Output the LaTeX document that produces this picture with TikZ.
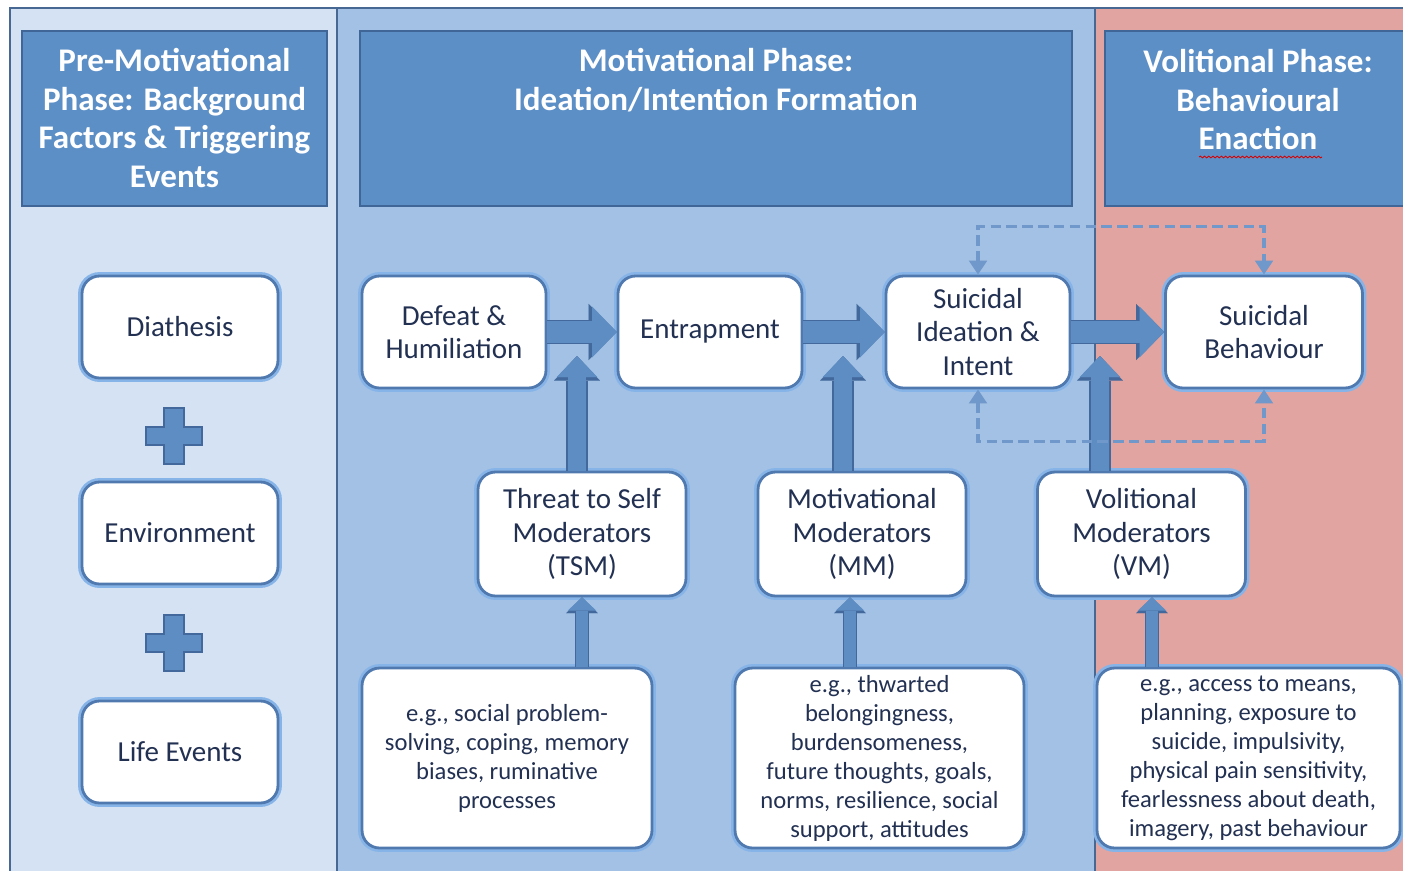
\documentclass[tikz,border=0pt]{standalone}
\usepackage{fontspec}
\setmainfont{Carlito}
\usetikzlibrary{arrows.meta,positioning,decorations.pathmorphing}

\definecolor{prepanel}{RGB}{212,226,243}
\definecolor{motpanel}{RGB}{162,193,228}
\definecolor{volpanel}{RGB}{226,164,160}
\definecolor{panelline}{RGB}{72,104,148}
\definecolor{headfill}{RGB}{93,143,199}
\definecolor{headline}{RGB}{64,102,152}
\definecolor{boxline}{RGB}{80,122,175}
\definecolor{boxglow}{RGB}{135,180,232}
\definecolor{inktext}{RGB}{34,48,82}
\definecolor{arrfill}{RGB}{94,141,196}
\definecolor{arrline}{RGB}{66,104,156}
\definecolor{loopline}{RGB}{112,152,202}

\tikzset{
  panel/.style={draw=panelline, line width=1.2pt},
  header/.style={draw=headline, fill=headfill, line width=1.4pt, inner sep=0pt},
  headtext/.style={text=white, inner sep=0pt, align=center,
    font=\fontsize{18.8}{22}\selectfont\bfseries},
  rbox/.style={draw=boxline, fill=white, line width=1.6pt, rounded corners=10pt,
    inner sep=0pt, align=center, text=inktext, font=\fontsize{16.5}{19}\selectfont,
    preaction={draw=boxglow, line width=4.5pt}},
  smallbox/.style={rbox, font=\fontsize{14}{16.5}\selectfont},
  plusmark/.style={draw=arrline, fill=arrfill, line width=1.2pt},
  bigarrow/.style={draw=arrfill, line width=12.5pt,
    -{Triangle[length=14pt,width=29pt,line width=0.01pt,fill=arrfill,color=arrfill]},
    preaction={draw=arrline, line width=14pt,
      -{Triangle[length=16pt,width=32pt,line width=0.01pt,color=arrline]}}},
  uparrow/.style={draw=arrfill, line width=10.5pt,
    -{Triangle[length=12pt,width=23pt,line width=0.01pt,fill=arrfill,color=arrfill]},
    preaction={draw=arrline, line width=12pt,
      -{Triangle[length=14pt,width=26pt,line width=0.01pt,color=arrline]}}},
  smallarrow/.style={draw=arrfill, line width=6.5pt,
    -{Triangle[length=7.5pt,width=16pt,line width=0.01pt,fill=arrfill,color=arrfill]},
    preaction={draw=arrline, line width=8pt,
      -{Triangle[length=9pt,width=18pt,line width=0.01pt,color=arrline]}}},
  feedback/.style={draw=loopline, line width=2pt, dash pattern=on 6pt off 3pt,
    {Triangle[length=8pt,width=10pt]}-{Triangle[length=8pt,width=10pt]}}
}

\begin{document}
\begin{tikzpicture}[x=0.02cm, y=-0.02cm]
  \useasboundingbox (0,0) rectangle (1403,870);
  \clip (0,0) rectangle (1403,870);
  \fill[white] (0,0) rectangle (1403,870);

  % phase panels
  \draw[panel, fill=prepanel] (10,8) rectangle (337,900);
  \draw[panel, fill=motpanel] (337,8) rectangle (1095,900);
  \draw[panel, fill=volpanel] (1095,8) rectangle (1440,900);

  % phase headers
  \node[header, minimum width=6.1cm, minimum height=3.5cm] (hpre) at (174.5,118.5) {};
  \node[header, minimum width=14.24cm, minimum height=3.5cm] (hmot) at (716,118.5) {};
  \node[header, minimum width=6.3cm, minimum height=3.5cm] (hvol) at (1262.5,118.5) {};
  \node[headtext, below=0.36cm of hpre.north] (tpre) {Pre-Motivational\\Phase: Background\\Factors \& Triggering\\Events};
  \node[headtext, below=0.36cm of hmot.north] (tmot) {Motivational Phase:\\Ideation/Intention Formation};
  \node[headtext, anchor=north] (tvol) at (1258,49) {Volitional Phase:\\Behavioural\\Enaction};
  \draw[red!85!black, line width=0.5pt, decorate,
    decoration={snake, amplitude=0.5pt, segment length=2.4pt}] (1199,157) -- (1322,157);

  % background factors
  \node[rbox, minimum width=3.92cm, minimum height=2.04cm] (diath) at (180,327) {Diathesis};
  \node[rbox, minimum width=3.92cm, minimum height=2.04cm] (env) at (180,533) {Environment};
  \node[rbox, minimum width=3.92cm, minimum height=2.04cm] (life) at (180,752) {Life Events};
  \foreach \py in {436,643}
    \draw[plusmark] (174,\py) +(-10,-28) -- +(10,-28) -- +(10,-9) -- +(28,-9) -- +(28,9)
      -- +(10,9) -- +(10,28) -- +(-10,28) -- +(-10,9) -- +(-28,9) -- +(-28,-9) -- +(-10,-9) -- cycle;

  % main pathway
  \node[rbox, minimum width=3.68cm, minimum height=2.24cm] (defeat) at (454,332) {Defeat \&\\Humiliation};
  \node[rbox, minimum width=3.68cm, minimum height=2.24cm] (entrap) at (710,332) {Entrapment};
  \node[rbox, minimum width=3.68cm, minimum height=2.24cm] (ideation) at (978,332) {Suicidal\\Ideation \&\\Intent};
  \node[rbox, minimum width=3.94cm, minimum height=2.24cm] (behav) at (1264,332) {Suicidal\\Behaviour};

  % moderators
  \node[rbox, minimum width=4.16cm, minimum height=2.48cm] (tsm) at (582,534) {Threat to Self\\Moderators\\(TSM)};
  \node[rbox, minimum width=4.16cm, minimum height=2.48cm] (mm) at (862,534) {Motivational\\Moderators\\(MM)};
  \node[rbox, minimum width=4.16cm, minimum height=2.48cm] (vm) at (1141.5,534) {Volitional\\Moderators\\(VM)};

  % examples
  \node[smallbox, minimum width=5.8cm, minimum height=3.6cm] (tsmex) at (507,758)
    {e.g., social problem-\\solving, coping, memory\\biases, ruminative\\processes};
  \node[smallbox, minimum width=5.78cm, minimum height=3.6cm] (mmex) at (879.5,758)
    {e.g., thwarted\\belongingness,\\burdensomeness,\\future thoughts, goals,\\norms, resilience, social\\support, attitudes};
  \node[smallbox, minimum width=6.06cm, minimum height=3.6cm] (vmex) at (1248.5,758)
    {e.g., access to means,\\planning, exposure to\\suicide, impulsivity,\\physical pain sensitivity,\\fearlessness about death,\\imagery, past behaviour};

  % block arrows
  \draw[bigarrow] (defeat.east) -- (entrap.west);
  \draw[bigarrow] (entrap.east) -- (ideation.west);
  \draw[bigarrow] (ideation.east) -- (behav.west);
  \coordinate (j1) at (577,356);
  \coordinate (j2) at (843,356);
  \coordinate (j3) at (1100,356);
  \draw[uparrow] (tsm.north -| j1) -- (j1);
  \draw[uparrow] (mm.north -| j2) -- (j2);
  \draw[uparrow] (vm.north -| j3) -- (j3);
  \draw[smallarrow] (tsm.south |- tsmex.north) -- (tsm.south);
  \draw[smallarrow] ([xshift=-0.24cm]mm.south |- mmex.north) -- ([xshift=-0.24cm]mm.south);
  \draw[smallarrow] ([xshift=0.21cm]vm.south |- vmex.north) -- ([xshift=0.21cm]vm.south);

  % feedback loops
  \draw[feedback] (ideation.north) -- ++(0,-48) -| (behav.north);
  \draw[feedback] (ideation.south) -- ++(0,52) -| (behav.south);
\end{tikzpicture}
\end{document}
